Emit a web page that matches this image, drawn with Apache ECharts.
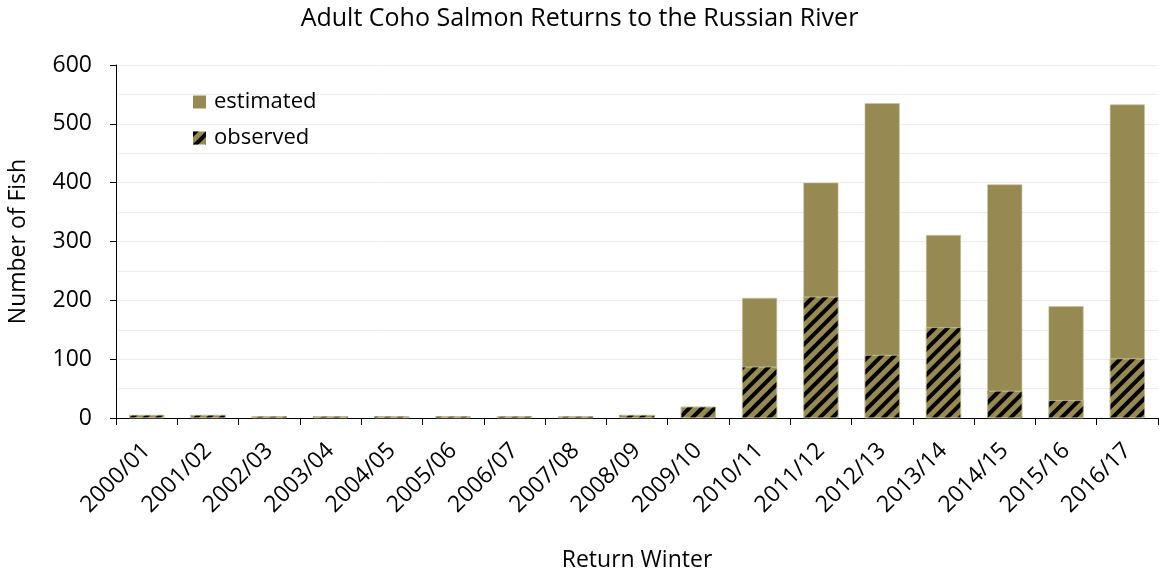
<!DOCTYPE html>
<html>
<head>
<meta charset="utf-8">
<script src="https://cdn.jsdelivr.net/npm/echarts@6/dist/echarts.min.js"></script>
<style>
  html, body { margin: 0; padding: 0; background: #fff; }
  #chart { width: 1159px; height: 571px; }
</style>
</head>
<body>
<div id="chart"></div>
<script>
// Return winters on the category axis
const winters = ['2000/01', '2001/02', '2002/03', '2003/04', '2004/05', '2005/06',
  '2006/07', '2007/08', '2008/09', '2009/10', '2010/11', '2011/12', '2012/13',
  '2013/14', '2014/15', '2015/16', '2016/17'];

// Estimated total returns per winter
const estimated = [5, 5, 3, 3, 3, 3, 3, 3, 5, 19, 204, 400, 535, 311, 397, 190, 533];

// Directly observed adults per winter
const observed = [5, 5, 3, 3, 3, 3, 3, 3, 5, 19, 87, 206, 107, 154, 46, 30, 101];

const FONT = 'Open Sans';
const OLIVE = '#968a52';

// Diagonal black hatching for the observed counts
const hatch = {
  symbol: 'rect',
  symbolSize: 1,
  color: '#000',
  dashArrayX: [1, 0],
  dashArrayY: [4, 4.5],
  rotation: -Math.PI / 4
};

const chart = echarts.init(document.getElementById('chart'), null, { renderer: 'canvas' });

chart.setOption({
  animation: false,
  backgroundColor: '#fff',
  textStyle: { fontFamily: FONT },
  title: {
    text: 'Adult Coho Salmon Returns to the Russian River',
    left: 'center',
    top: 1,
    textStyle: { fontFamily: FONT, fontSize: 25, fontWeight: 'normal', color: '#000' }
  },
  legend: {
    orient: 'vertical',
    left: 188,
    top: 86,
    icon: 'rect',
    itemWidth: 13,
    itemHeight: 13,
    itemGap: 14,
    itemStyle: { borderWidth: 0 },
    textStyle: { fontFamily: FONT, fontSize: 22, color: '#000', padding: [0, 0, 0, 3] },
    data: ['estimated', 'observed']
  },
  grid: { left: 116, right: 1, top: 65, bottom: 153, containLabel: false, outerBoundsMode: 'none' },
  xAxis: {
    type: 'category',
    data: winters,
    name: 'Return Winter',
    nameLocation: 'middle',
    nameGap: 131,
    nameTextStyle: { fontFamily: FONT, fontSize: 23, color: '#000' },
    axisLine: { lineStyle: { color: '#000', width: 1 } },
    axisTick: { show: true, length: 7, lineStyle: { color: '#000' } },
    axisLabel: {
      rotate: 45,
      interval: 0,
      margin: 29,
      fontFamily: FONT,
      fontSize: 23,
      color: '#000'
    }
  },
  yAxis: {
    type: 'value',
    min: 0,
    max: 600,
    interval: 100,
    name: 'Number of Fish',
    nameLocation: 'middle',
    nameGap: 86,
    nameRotate: 90,
    nameTextStyle: { fontFamily: FONT, fontSize: 23, color: '#000' },
    axisLine: { show: true, lineStyle: { color: '#000', width: 1 } },
    axisTick: { show: true, length: 6, lineStyle: { color: '#000' } },
    axisLabel: { fontFamily: FONT, fontSize: 23, color: '#000', margin: 24 },
    splitLine: { show: true, lineStyle: { color: '#ececec', width: 1 } },
    minorTick: { show: false, splitNumber: 2 },
    minorSplitLine: { show: true, lineStyle: { color: '#ececec', width: 1 } }
  },
  series: [
    {
      name: 'estimated',
      type: 'bar',
      data: estimated,
      barWidth: 35,
      itemStyle: { color: OLIVE, borderColor: '#c9c2a0', borderWidth: 0.6 }
    },
    {
      name: 'observed',
      type: 'bar',
      data: observed,
      barWidth: 35,
      barGap: '-100%',
      itemStyle: {
        color: OLIVE,
        borderColor: '#c9c2a0',
        borderWidth: 0.6,
        decal: hatch
      }
    }
  ]
});
</script>
</body>
</html>
